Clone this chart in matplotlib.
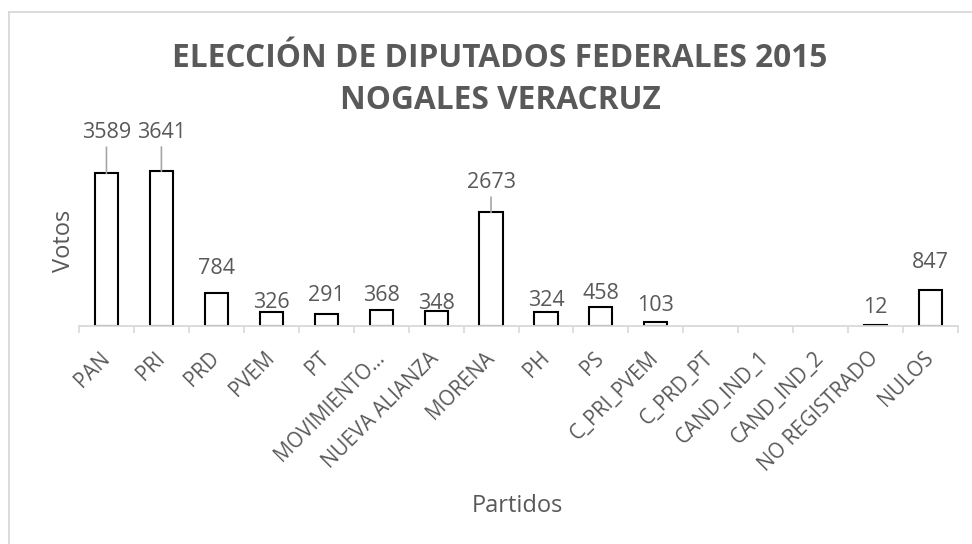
import matplotlib
matplotlib.use("Agg")
import matplotlib.pyplot as plt
from matplotlib.lines import Line2D
import numpy as np

# data
partidos = ["PAN", "PRI", "PRD", "PVEM", "PT", "MOVIMIENTO…", "NUEVA ALIANZA",
            "MORENA", "PH", "PS", "C_PRI_PVEM", "C_PRD_PT", "CAND_IND_1",
            "CAND_IND_2", "NO REGISTRADO", "NULOS"]
votos = [3589, 3641, 784, 326, 291, 368, 348, 2673, 324, 458, 103, 0, 0, 0, 12, 847]

# label offsets above bar top (pixels), as Excel placed them; None -> no label
label_dy = [41, 39, 24, 10, 18, 15, 8, 30, 12, 13, 16, None, None, None, 18, 28]
leader = [True, True, False, False, False, False, False, True,
          False, False, False, False, False, False, False, False]

TEXT = "#595959"
LIGHT = "#d9d9d9"
FONT = ["Open Sans", "DejaVu Sans"]

plt.rcParams["font.family"] = FONT

W, H = 972, 544
fig = plt.figure(figsize=(W / 100, H / 100), dpi=100)
ax = fig.add_axes([79 / W, 1 - 326 / H, (958 - 79) / W, 170 / H])

x = np.arange(len(partidos))
vals = np.array(votos, dtype=float)
mask = vals > 0
ax.bar(x[mask], vals[mask], width=0.42, facecolor="white", edgecolor="black",
       linewidth=1.5, zorder=2)

ax.set_xlim(-0.5, len(partidos) - 0.5)
ax.set_ylim(0, 4000)

for i, v in enumerate(votos):
    dy = label_dy[i]
    if dy is None:
        continue
    kw = {}
    if leader[i]:
        kw["arrowprops"] = dict(arrowstyle="-", color="#a6a6a6", lw=1.2,
                                shrinkA=1, shrinkB=0)
    ax.annotate(f"{v}", xy=(i, v), xytext=(0, dy), textcoords="offset pixels",
                ha="center", va="center", fontsize=15.5, color=TEXT,
                annotation_clip=False, **kw)

# axes styling
for s in ("left", "right", "top"):
    ax.spines[s].set_visible(False)
ax.spines["bottom"].set_color(LIGHT)
ax.spines["bottom"].set_linewidth(1.3)
ax.set_yticks([])

ax.set_xticks(x)
ax.set_xticklabels(partidos, rotation=45, ha="right", va="center",
                   rotation_mode="anchor", fontsize=14.8, color=TEXT)
ax.tick_params(axis="x", which="major", length=0, pad=21)
ax.set_xticks(np.arange(len(partidos) + 1) - 0.5, minor=True)
ax.tick_params(axis="x", which="minor", length=5, width=1.2, color=LIGHT,
               direction="out")

# axis titles
fig.text(70 / W, 1 - 241 / H, "Votos", rotation=90, rotation_mode="anchor",
         ha="center", va="baseline", fontsize=17, color=TEXT)
fig.text(517 / W, 1 - 512 / H, "Partidos", ha="center", va="baseline",
         fontsize=17, color=TEXT)

# title
fig.text(500 / W, 1 - 67 / H, "ELECCIÓN DE DIPUTADOS FEDERALES 2015",
         ha="center", va="baseline", fontsize=22.8, fontweight="bold", color=TEXT)
fig.text(500 / W, 1 - 109 / H, "NOGALES VERACRUZ",
         ha="center", va="baseline", fontsize=22.8, fontweight="bold", color=TEXT)

# chart area frame (left and top edges visible)
fig.add_artist(Line2D([9 / W, 9 / W], [0, 1 - 12 / H], transform=fig.transFigure,
                      color=LIGHT, lw=1.3))
fig.add_artist(Line2D([9 / W, 1], [1 - 12 / H, 1 - 12 / H], transform=fig.transFigure,
                      color=LIGHT, lw=1.3))

fig.savefig("out.png", dpi=100)
